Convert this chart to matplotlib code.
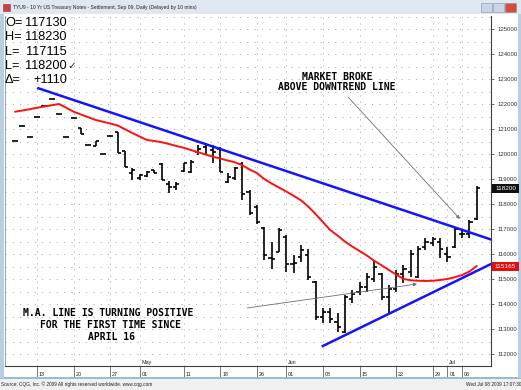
import matplotlib
matplotlib.use("Agg")
import matplotlib.pyplot as plt
from matplotlib.patches import Rectangle

# ---------------- data ----------------
bar_index = list(range(-3, 61))
opens  = [120.53, 121.12, 120.68, 121.47, 121.93, 122.19, 121.60, 120.67, 121.43, 121.04,
          120.35, 120.32, 119.99, 120.72, 120.90, 120.12, 119.24, 119.04, 119.12, 119.36,
          119.62, 118.80, 118.68, 119.33, 119.30, 120.09, 120.29, 120.16, 120.20, 118.90,
          119.03, 119.60, 118.50, 117.90, 117.05, 115.85, 116.10, 116.70, 115.60, 115.90,
          115.95, 114.90, 113.50, 113.70, 113.30, 112.90, 114.20, 114.50, 114.70, 115.00,
          115.20, 114.30, 114.60, 115.20, 115.30, 115.10, 116.30, 116.45, 116.50, 116.00,
          116.30, 116.80, 116.80, 117.41]
highs  = [120.53, 121.12, 120.68, 121.47, 121.93, 122.19, 121.60, 120.67, 121.43, 121.04,
          120.35, 120.52, 119.99, 120.72, 120.90, 120.12, 119.44, 119.20, 119.32, 119.36,
          119.64, 118.92, 118.89, 119.66, 119.76, 120.36, 120.45, 120.36, 120.27, 119.23,
          119.49, 119.69, 118.56, 117.96, 117.09, 116.49, 117.03, 116.76, 115.96, 116.36,
          116.20, 114.92, 113.84, 113.84, 113.64, 114.36, 114.56, 114.89, 115.24, 115.76,
          115.24, 114.76, 115.36, 115.56, 116.16, 116.32, 116.64, 116.69, 116.64, 116.29,
          117.08, 116.96, 117.36, 118.72]
lows   = [120.53, 121.12, 120.68, 121.47, 121.93, 122.19, 121.60, 120.67, 121.43, 120.80,
          120.35, 120.32, 119.99, 120.72, 120.03, 119.50, 118.96, 118.96, 119.08, 119.24,
          118.96, 118.44, 118.56, 119.30, 119.25, 119.96, 120.00, 119.63, 119.29, 118.83,
          118.96, 118.16, 117.56, 117.20, 115.76, 115.40, 116.09, 115.29, 115.23, 115.69,
          114.96, 113.36, 113.24, 113.24, 112.88, 112.84, 114.04, 114.36, 114.49, 114.89,
          114.16, 113.64, 114.49, 114.83, 115.09, 115.03, 116.16, 116.32, 115.84, 115.69,
          116.23, 116.63, 116.64, 117.36]
closes = [120.53, 121.12, 120.68, 121.47, 121.93, 122.19, 121.60, 120.67, 121.43, 120.80,
          120.35, 120.52, 119.99, 120.72, 120.03, 119.50, 119.36, 119.16, 119.28, 119.24,
          118.98, 118.70, 118.80, 119.63, 119.70, 120.19, 120.36, 120.09, 119.29, 119.10,
          119.43, 118.40, 117.65, 117.30, 115.95, 115.80, 116.95, 115.60, 115.65, 116.15,
          115.10, 113.50, 113.70, 113.40, 113.10, 114.30, 114.40, 114.70, 115.10, 115.50,
          114.30, 114.60, 115.20, 115.40, 116.00, 116.20, 116.50, 116.60, 116.20, 115.90,
          117.00, 116.80, 117.28, 118.63]
moving_avg = [121.69, 121.74, 121.79, 121.85, 121.90, 121.95, 122.00, 121.85, 121.69, 121.58,
              121.47, 121.36, 121.29, 121.22, 121.14, 120.99, 120.84, 120.70, 120.56, 120.52,
              120.47, 120.40, 120.32, 120.25, 120.16, 120.07, 119.98, 119.89, 119.82, 119.74,
              119.67, 119.55, 119.38, 119.24, 119.00, 118.82, 118.66, 118.50, 118.33, 118.15,
              117.90, 117.60, 117.28, 116.96, 116.74, 116.50, 116.30, 116.12, 115.94, 115.73,
              115.55, 115.36, 115.18, 115.00, 114.95, 114.93, 114.92, 114.93, 114.96, 115.00,
              115.07, 115.16, 115.30, 115.52]

tick_index  = [0, 5, 10, 14, 20, 25, 30, 34, 39, 44, 49, 54, 56, 58]
tick_labels = ['13', '20', '27', '01', '11', '18', '26', '01', '08', '15', '22', '29', '01', '06']
month_index = [14, 34, 56]
month_labels = ['May', 'Jun', 'Jul']
price_ticks = list(range(112, 126))

downtrend = ([0.18, 61.94], [122.63, 116.58])
uptrend = ([39.0, 61.94], [112.32, 115.60])
arrow_market = ((42.43, 122.28), (57.7, 117.4))
arrow_ma = ((28.65, 113.84), (51.84, 114.80))

last_price_label = (118.625, '118200')
ma_label = (115.516, '115165')

# ---------------- figure ----------------
W, H = 521, 390
fig = plt.figure(figsize=(W / 100, H / 100), dpi=100)
fig.patch.set_facecolor('#ffffff')

def fx(x):
    return x / W

def fy(y):
    return 1 - y / H

# window chrome
fig.patches.append(Rectangle((0, fy(14)), 1, 1 - fy(14), transform=fig.transFigure,
                             facecolor='#dfe7f1', edgecolor='none', zorder=0))
fig.patches.append(Rectangle((0, 0), 1, fy(378), transform=fig.transFigure,
                             facecolor='#f0f0f0', edgecolor='none', zorder=0))
fig.patches.append(Rectangle((0, fy(379)), 1, fy(377) - fy(379), transform=fig.transFigure,
                             facecolor='#9fb8d6', edgecolor='none', zorder=0))
fig.patches.append(Rectangle((0, fy(378)), fx(4), fy(14) - fy(378), transform=fig.transFigure,
                             facecolor='#b9cde4', edgecolor='none', zorder=0))
fig.patches.append(Rectangle((fx(518), fy(378)), fx(3), fy(14) - fy(378), transform=fig.transFigure,
                             facecolor='#b9cde4', edgecolor='none', zorder=0))
# title icon
fig.patches.append(Rectangle((fx(3), fy(11)), fx(7), fy(4) - fy(11), transform=fig.transFigure,
                             facecolor='#d04040', edgecolor='#804040', lw=0.4, zorder=1))
fig.text(fx(13), fy(7.5), 'TYU9 - 10 Yr US Treasury Notes - Settlement, Sep 09, Daily (Delayed by 10 mins)',
         fontsize=3.6, color='#202020', va='center', ha='left', family='Liberation Sans')
# window buttons
for bx, col in [(481, '#c8d6e6'), (493, '#c8d6e6'), (505, '#d84a3a')]:
    fig.patches.append(Rectangle((fx(bx), fy(12)), fx(11), fy(3) - fy(12), transform=fig.transFigure,
                                 facecolor=col, edgecolor='#7f93ad', lw=0.4, zorder=1))

ax = fig.add_axes([fx(5), fy(366), fx(491) - fx(5), fy(16) - fy(366)])
ax.set_facecolor('white')
xmin, xmax = -4.37, 61.94
ymin, ymax = 111.52, 125.52
ax.set_xlim(xmin, xmax)
ax.set_ylim(ymin, ymax)

# dotted grid
half_levels = [112 + 0.5 * k for k in range(28)]
ax.hlines(half_levels, xmin, xmax, colors='#a8a8a8', linewidth=0.72,
          linestyles=(0, (1, 6.33)), zorder=1)
ax.vlines(tick_index, ymin, ymax, colors='#a8a8a8', linewidth=0.72,
          linestyles=(0, (1, 5.0)), zorder=1)

# OHLC bars
ax.vlines(bar_index, lows, highs, colors='black', linewidth=1.2, zorder=3)
ax.hlines(opens, [i - 0.42 for i in bar_index], bar_index, colors='black', linewidth=1.2, zorder=3)
ax.hlines(closes, bar_index, [i + 0.42 for i in bar_index], colors='black', linewidth=1.2, zorder=3)

# moving average
ax.plot(bar_index, moving_avg, color='#ff1010', linewidth=1.4, zorder=4, solid_capstyle='round')

# trend lines
ax.plot(*downtrend, color='#1414ff', linewidth=1.8, zorder=5)
ax.plot(*uptrend, color='#1414ff', linewidth=1.8, zorder=5)

# annotation arrows
for start, end in [arrow_market, arrow_ma]:
    ax.annotate('', xy=end, xytext=start,
                arrowprops=dict(arrowstyle='-|>', color='#6e6e6e', lw=0.6,
                                mutation_scale=5, shrinkA=0, shrinkB=0), zorder=6)

# axes styling
ax.spines['top'].set_visible(False)
ax.spines['left'].set_color('#8090a0')
ax.spines['left'].set_linewidth(0.6)
ax.spines['right'].set_color('#404040')
ax.spines['right'].set_linewidth(0.8)
ax.spines['bottom'].set_color('#404040')
ax.spines['bottom'].set_linewidth(0.8)

ax.yaxis.tick_right()
ax.set_yticks(price_ticks)
ax.set_yticklabels([f'{v}000' for v in price_ticks], fontsize=4.3, color='#303030',
                   family='Liberation Sans')
ax.tick_params(axis='y', length=2, width=0.5, pad=3, colors='#303030')
ax.set_xticks(tick_index)
ax.set_xticklabels([])
ax.tick_params(axis='x', length=10, width=0.5, colors='#404040', direction='out')

for i, lab in zip(tick_index, tick_labels):
    ax.text(i + 0.25, ymin - 0.24, lab, fontsize=3.9, color='#202020', ha='left', va='top',
            family='Liberation Sans', clip_on=False)
for i, lab in zip(month_index, month_labels):
    ax.text(i + 0.25, ymin + 0.05, lab, fontsize=3.9, color='#202020', ha='left', va='bottom',
            family='Liberation Sans', clip_on=False)

# right-side value boxes
def value_box(price, text, face):
    ypix = 29 + (125 - price) * 25
    fig.patches.append(Rectangle((fx(492), fy(ypix + 4.5)), fx(27), fy(ypix - 4.5) - fy(ypix + 4.5),
                                 transform=fig.transFigure, facecolor=face, edgecolor='none', zorder=5))
    fig.text(fx(505.5), fy(ypix), text, fontsize=4.6, color='white', ha='center', va='center',
             family='Liberation Sans', zorder=6)

value_box(last_price_label[0], last_price_label[1], '#101010')
value_box(ma_label[0], ma_label[1], '#e01010')

# quote block top-left
quote_rows = [('O=', '117130', ''), ('H=', '118230', ''), ('L=', '117115', ''),
              ('L=', '118200', '\u2713'), ('\u0394=', '+1110', '')]
for k, (lab, val, extra) in enumerate(quote_rows):
    ypix = 23 + k * 14.3
    fig.text(fx(5), fy(ypix), lab, fontsize=9.2, color='black', ha='left', va='center',
             family=['Liberation Sans', 'DejaVu Sans'])
    fig.text(fx(67), fy(ypix), val, fontsize=9.2, color='black', ha='right', va='center',
             family=['Liberation Sans', 'DejaVu Sans'])
    if extra:
        fig.text(fx(67), fy(ypix + 0.5), extra, fontsize=7.5, color='#202020', ha='left', va='center',
                 family=['DejaVu Sans'])

# annotation texts
note_font = dict(fontsize=7.0, color='black', ha='center', va='center',
                 family='DejaVu Sans Mono', fontweight='bold')
fig.text(fx(337), fy(76.5), 'MARKET BROKE', **note_font)
fig.text(fx(337), fy(87), 'ABOVE DOWNTREND LINE', **note_font)
fig.text(fx(108), fy(313), 'M.A. LINE IS TURNING POSITIVE', **note_font)
fig.text(fx(111), fy(325), 'FOR THE FIRST TIME SINCE', **note_font)
fig.text(fx(112), fy(337), 'APRIL 16', **note_font)

# footer
fig.text(fx(1), fy(384), 'Source: CQG, Inc. \u00a9 2009 All rights reserved worldwide. www.cqg.com',
         fontsize=3.4, color='#202020', ha='left', va='center', family='Liberation Sans')
fig.text(fx(521), fy(384), 'Wed Jul 08 2009 17:07:30', fontsize=3.4, color='#202020',
         ha='right', va='center', family='Liberation Sans')

fig.savefig('out.png', dpi=100, facecolor=fig.get_facecolor())
